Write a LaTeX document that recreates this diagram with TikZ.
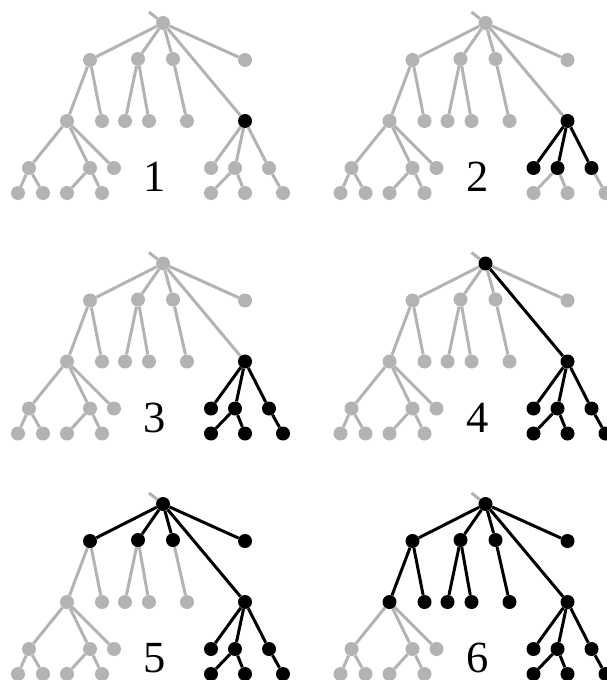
\documentclass[tikz,border=0pt]{standalone}
\usepackage{fontspec}
\setmainfont{Liberation Serif}
\usepackage{xcolor}
\usetikzlibrary{backgrounds}
\definecolor{treegray}{RGB}{179,179,179}

\begin{document}
\begin{tikzpicture}[x=0.03cm,y=-0.03cm,
  dot/.style={circle,fill,inner sep=0pt,minimum size=0.42cm},
  edge/.style={line width=0.09cm},
  st/.code={\ifnum\stage<#1\relax\pgfkeysalso{/tikz/color=treegray}\else\pgfkeysalso{/tikz/color=black}\fi},
  numlabel/.style={font=\fontsize{38}{40}\selectfont,inner sep=0pt}]
\useasboundingbox (0,0) rectangle (606,680);

\foreach \stage/\px/\py in {1/0/0,2/322.5/0,3/0/240.5,4/322.5/240.5,5/0/481,6/322.5/481}{
\begin{scope}[shift={(\px,\py)}]
% nodes
\coordinate (top) at (149,12);
\node[dot,st=4] (r) at (163,23) {};
\node[dot,st=5] (a) at (90,60) {};
\node[dot,st=5] (b) at (138,59) {};
\node[dot,st=5] (c) at (173,59) {};
\node[dot,st=5] (d) at (245,60) {};
\node[dot,st=1] (e) at (245,121) {};
\node[dot,st=6] (a1) at (67,121) {};
\node[dot,st=6] (a2) at (102,121) {};
\node[dot,st=6] (b1) at (125,121) {};
\node[dot,st=6] (b2) at (149,121) {};
\node[dot,st=6] (c1) at (187,121) {};
\node[dot,st=7] (a11) at (29,168) {};
\node[dot,st=7] (a12) at (90,168) {};
\node[dot,st=7] (a13) at (114,168) {};
\node[dot,st=7] (a111) at (18,193) {};
\node[dot,st=7] (a112) at (43,193) {};
\node[dot,st=7] (a121) at (67,193) {};
\node[dot,st=7] (a122) at (102,193) {};
\node[dot,st=2] (e1) at (211,168) {};
\node[dot,st=2] (e2) at (235,168) {};
\node[dot,st=2] (e3) at (269,168) {};
\node[dot,st=3] (e21) at (211,193) {};
\node[dot,st=3] (e22) at (245,193) {};
\node[dot,st=3] (e31) at (283,193) {};

\node[numlabel] (lab) at (155,177) {\stage};

% edges
\begin{pgfonlayer}{background}
\draw[edge,st=7] (r) -- (top);
\draw[edge,st=5] (r) -- (a);
\draw[edge,st=5] (r) -- (b);
\draw[edge,st=5] (r) -- (c);
\draw[edge,st=5] (r) -- (d);
\draw[edge,st=4] (r) -- (e);
\draw[edge,st=6] (a) -- (a1);
\draw[edge,st=6] (a) -- (a2);
\draw[edge,st=6] (b) -- (b1);
\draw[edge,st=6] (b) -- (b2);
\draw[edge,st=6] (c) -- (c1);
\draw[edge,st=7] (a1) -- (a11);
\draw[edge,st=7] (a1) -- (a12);
\draw[edge,st=7] (a1) -- (a13);
\draw[edge,st=7] (a11) -- (a111);
\draw[edge,st=7] (a11) -- (a112);
\draw[edge,st=7] (a12) -- (a121);
\draw[edge,st=7] (a12) -- (a122);
\draw[edge,st=2] (e) -- (e1);
\draw[edge,st=2] (e) -- (e2);
\draw[edge,st=2] (e) -- (e3);
\draw[edge,st=3] (e2) -- (e21);
\draw[edge,st=3] (e2) -- (e22);
\draw[edge,st=3] (e3) -- (e31);
\end{pgfonlayer}
\end{scope}
}
\end{tikzpicture}
\end{document}
